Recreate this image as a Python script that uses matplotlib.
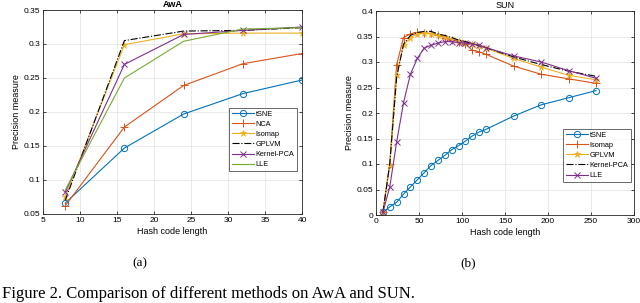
import matplotlib
matplotlib.use("Agg")
import matplotlib.pyplot as plt

plt.rcParams['font.family'] = ['Liberation Sans', 'DejaVu Sans']

# ---- AwA data ----
awa_x = [8, 16, 24, 32, 40]
awa_tsne = [0.066, 0.147, 0.197, 0.227, 0.247]
awa_nca = [0.062, 0.178, 0.239, 0.271, 0.286]
awa_isomap = [0.075, 0.299, 0.315, 0.316, 0.316]
awa_gplvm = [0.070, 0.305, 0.319, 0.320, 0.324]
awa_kpca = [0.082, 0.270, 0.314, 0.320, 0.325]
awa_lle = [0.085, 0.250, 0.304, 0.322, 0.324]

# ---- SUN data ----
sun_x = [8, 16, 24, 32, 40, 48, 56, 64, 72, 80, 88, 96, 104, 112, 120, 128, 160, 192, 224, 256]
sun_tsne = [0.005, 0.016, 0.025, 0.041, 0.055, 0.069, 0.083, 0.097, 0.107, 0.117,
            0.128, 0.136, 0.145, 0.155, 0.163, 0.168, 0.194, 0.216, 0.230, 0.244]
sun_isomap = [0.005, 0.100, 0.295, 0.348, 0.355, 0.358, 0.357, 0.356, 0.352, 0.348,
              0.344, 0.340, 0.335, 0.323, 0.320, 0.315, 0.292, 0.276, 0.267, 0.258]
sun_gplvm = [0.005, 0.098, 0.275, 0.333, 0.348, 0.355, 0.356, 0.355, 0.352, 0.350,
             0.345, 0.342, 0.338, 0.336, 0.332, 0.327, 0.307, 0.290, 0.274, 0.265]
sun_kpca = [0.005, 0.100, 0.270, 0.335, 0.352, 0.358, 0.360, 0.360, 0.355, 0.352,
            0.348, 0.343, 0.340, 0.336, 0.332, 0.328, 0.310, 0.295, 0.282, 0.272]
sun_lle = [0.005, 0.055, 0.143, 0.220, 0.276, 0.307, 0.327, 0.333, 0.337, 0.340,
           0.340, 0.338, 0.337, 0.335, 0.333, 0.328, 0.312, 0.300, 0.283, 0.268]

C_BLUE = '#0072BD'
C_ORANGE = '#D95319'
C_YELLOW = '#EDB120'
C_PURPLE = '#7E2F8E'
C_GREEN = '#77AC30'

fig = plt.figure(figsize=(6.4, 3.03), dpi=100)
W, H = 640, 303

def style_ax(ax):
    ax.grid(True, color='#e6e6e6', linewidth=0.6)
    ax.set_axisbelow(True)
    ax.tick_params(direction='in', top=True, right=True, labelsize=6, length=2.5,
                   width=0.5, pad=2)
    for s in ax.spines.values():
        s.set_linewidth(0.6)
        s.set_color('#262626')

lw = 0.8
ms = 4.5

def legend(ax, x0, y0, ax_l, ax_r, ax_t, ax_b):
    leg = ax.legend(loc='upper left',
                    bbox_to_anchor=((x0 - ax_l) / (ax_r - ax_l), 1 - (y0 - ax_t) / (ax_b - ax_t)),
                    fontsize=5.3, frameon=True, fancybox=False, edgecolor='#262626',
                    handlelength=3, handletextpad=0.3, borderpad=0.35, labelspacing=0.4,
                    borderaxespad=0)
    leg.get_frame().set_linewidth(0.6)

ax1 = fig.add_axes([43 / W, 1 - 214 / H, (302 - 43) / W, (214 - 10) / H])
ax1.plot(awa_x, awa_tsne, color=C_BLUE, marker='o', mfc='none', ms=ms, lw=lw, mew=0.7, label='tSNE')
ax1.plot(awa_x, awa_nca, color=C_ORANGE, marker='+', ms=ms + 1, lw=lw, mew=0.7, label='NCA')
ax1.plot(awa_x, awa_isomap, color=C_YELLOW, marker='*', ms=ms, lw=lw, mew=0.5, label='Isomap')
ax1.plot(awa_x, awa_gplvm, color='black', linestyle='-.', lw=lw, label='GPLVM')
ax1.plot(awa_x, awa_kpca, color=C_PURPLE, marker='x', ms=ms, lw=lw, mew=0.7, label='Kernel-PCA')
ax1.plot(awa_x, awa_lle, color=C_GREEN, lw=lw, label='LLE')
ax1.set_xlim(5, 40)
ax1.set_ylim(0.05, 0.35)
ax1.set_xticks([5, 10, 15, 20, 25, 30, 35, 40])
ax1.set_yticks([0.05, 0.1, 0.15, 0.2, 0.25, 0.3, 0.35])
ax1.set_yticklabels(['0.05', '0.1', '0.15', '0.2', '0.25', '0.3', '0.35'])
style_ax(ax1)
ax1.set_xlabel('Hash code length', fontsize=6.5, labelpad=2)
ax1.set_ylabel('Precision measure', fontsize=6.5, labelpad=2)
ax1.set_title('AwA', fontsize=6.5, fontweight='bold', pad=2)
legend(ax1, 229, 108, 43, 302, 10, 214)

ax2 = fig.add_axes([376 / W, 1 - 215 / H, (634 - 376) / W, (215 - 11) / H])
ax2.plot(sun_x, sun_tsne, color=C_BLUE, marker='o', mfc='none', ms=ms, lw=lw, mew=0.7, label='tSNE')
ax2.plot(sun_x, sun_isomap, color=C_ORANGE, marker='+', ms=ms + 1, lw=lw, mew=0.7, label='Isomap')
ax2.plot(sun_x, sun_gplvm, color=C_YELLOW, marker='*', ms=ms, lw=lw, mew=0.5, label='GPLVM')
ax2.plot(sun_x, sun_kpca, color='black', linestyle='-.', lw=lw, label='Kernel-PCA')
ax2.plot(sun_x, sun_lle, color=C_PURPLE, marker='x', ms=ms - 0.5, lw=lw, mew=0.7, label='LLE')
ax2.set_xlim(0, 300)
ax2.set_ylim(0, 0.4)
ax2.set_xticks([0, 50, 100, 150, 200, 250, 300])
ax2.set_yticks([0, 0.05, 0.1, 0.15, 0.2, 0.25, 0.3, 0.35, 0.4])
ax2.set_yticklabels(['0', '0.05', '0.1', '0.15', '0.2', '0.25', '0.3', '0.35', '0.4'])
style_ax(ax2)
ax2.set_xlabel('Hash code length', fontsize=6.5, labelpad=2)
ax2.set_ylabel('Precision measure', fontsize=6.5, labelpad=2)
ax2.set_title('SUN', fontsize=6.5, pad=2)
legend(ax2, 563, 129, 376, 634, 11, 215)

fig.text(140 / W, 1 - 263 / H, '(a)', fontsize=9.5, family=['Liberation Serif'], ha='center', va='center')
fig.text(468 / W, 1 - 263 / H, '(b)', fontsize=9.5, family=['Liberation Serif'], ha='center', va='center')
fig.text(2 / W, 1.5 / H, 'Figure 2. Comparison of different methods on AwA and SUN.',
         fontsize=12, family=['Liberation Serif'], ha='left', va='bottom')

fig.savefig('out.png', dpi=100)
